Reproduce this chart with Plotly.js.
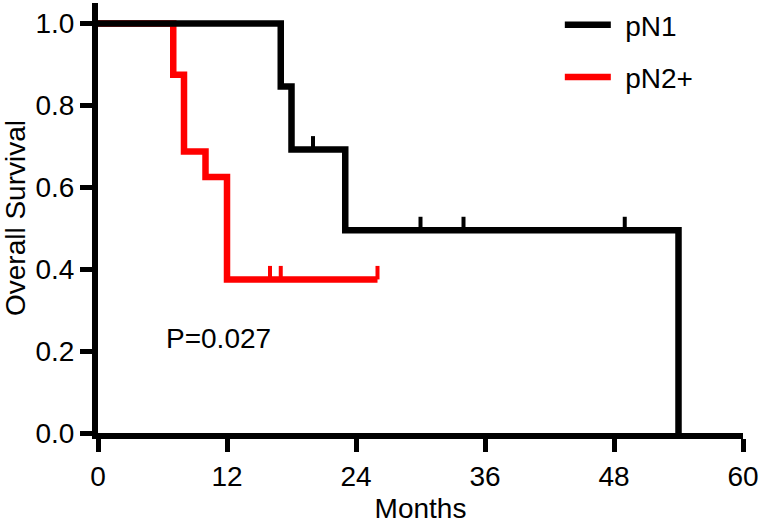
<!DOCTYPE html>
<html>
<head>
<meta charset="utf-8">
<script src="https://cdn.plot.ly/plotly-3.0.1.min.js"></script>
<style>html,body{margin:0;padding:0;background:#fff;}#chart{width:762px;height:528px;}</style>
</head>
<body>
<div id="chart"></div>
<script>
// Kaplan-Meier step data (months, survival)
var pN1_times = [0, 17, 18, 23, 54];
var pN1_surv = [1.0, 0.846, 0.692, 0.495, 0.0];
var pN1_censor = [20, 30, 34, 49];

var pN2_times = [0, 7, 8, 10, 12, 26];
var pN2_surv = [1.0, 0.875, 0.6875, 0.625, 0.375, 0.375];
var pN2_censor = [16, 17, 26];

var xTicks = [0, 12, 24, 36, 48, 60];
var yTicks = [0.0, 0.2, 0.4, 0.6, 0.8, 1.0];
var seriesNames = ['pN1', 'pN2+'];
var pLabel = 'P=0.027';

function survAt(times, surv, t) {
  var s = surv[0];
  for (var i = 0; i < times.length; i++) { if (times[i] <= t) s = surv[i]; }
  return s;
}

var FONT = 'Liberation Sans, Arial, Helvetica, sans-serif';
var FS = 28;
var TICK_H = 0.033;
var GAP = '\u2004';

function censorTrace(times, surv, cens, color, group) {
  return {
    x: cens,
    y: cens.map(function (t) { return survAt(times, surv, t); }),
    type: 'scatter', mode: 'markers',
    marker: {size: 1, color: color, opacity: 0},
    error_y: {type: 'data', symmetric: false,
      array: cens.map(function () { return TICK_H; }),
      arrayminus: cens.map(function () { return 0; }),
      width: 0, thickness: 4, color: color},
    showlegend: false, legendgroup: group, hoverinfo: 'skip'
  };
}

var traces = [
  {x: pN2_times, y: pN2_surv, type: 'scatter', mode: 'lines', name: GAP + seriesNames[1],
   line: {shape: 'hv', color: '#ff0000', width: 6.5}, legendgroup: 'b', legendrank: 2},
  censorTrace(pN2_times, pN2_surv, pN2_censor, '#ff0000', 'b'),
  {x: pN1_times, y: pN1_surv, type: 'scatter', mode: 'lines', name: GAP + seriesNames[0],
   line: {shape: 'hv', color: '#000000', width: 6.5}, legendgroup: 'a', legendrank: 1},
  censorTrace(pN1_times, pN1_surv, pN1_censor, '#000000', 'a')
];

var layout = {
  width: 762, height: 528,
  margin: {l: 98, r: 19, t: 3, b: 95, autoexpand: false},
  paper_bgcolor: '#ffffff', plot_bgcolor: '#ffffff',
  font: {family: FONT, size: FS, color: '#000'},
  showlegend: true,
  legend: {x: 0.716, y: 1.0, xanchor: 'left', yanchor: 'top', yref: 'container',
    traceorder: 'grouped', tracegroupgap: 13, itemwidth: 46,
    font: {family: FONT, size: FS, color: '#000'}, bgcolor: 'rgba(0,0,0,0)'},
  xaxis: {range: [0, 60], tickvals: xTicks, ticktext: xTicks.map(String),
    showline: true, linewidth: 6, linecolor: '#000', mirror: false,
    ticks: 'outside', ticklen: 13, tickwidth: 5, tickcolor: '#000',
    showgrid: false, zeroline: false,
    tickfont: {family: FONT, size: FS, color: '#000'},
    title: {text: 'Months', font: {family: FONT, size: FS, color: '#000'}, standoff: 10}},
  yaxis: {range: [0, 1.05], tickvals: yTicks, ticktext: yTicks.map(function (v) { return v.toFixed(1); }),
    showline: true, linewidth: 6, linecolor: '#000',
    ticks: 'outside', ticklen: 12, tickwidth: 5, tickcolor: '#000',
    showgrid: false, zeroline: false,
    tickfont: {family: FONT, size: FS, color: '#000'},
    title: {text: 'Overall Survival', font: {family: FONT, size: FS, color: '#000'}, standoff: 6}},
  annotations: [{x: 6.1, y: 0.23, xref: 'x', yref: 'y', text: pLabel, showarrow: false,
    xanchor: 'left', yanchor: 'middle', font: {family: FONT, size: FS, color: '#000'}}]
};

Plotly.newPlot('chart', traces, layout, {displayModeBar: false, staticPlot: true});
</script>
</body>
</html>
